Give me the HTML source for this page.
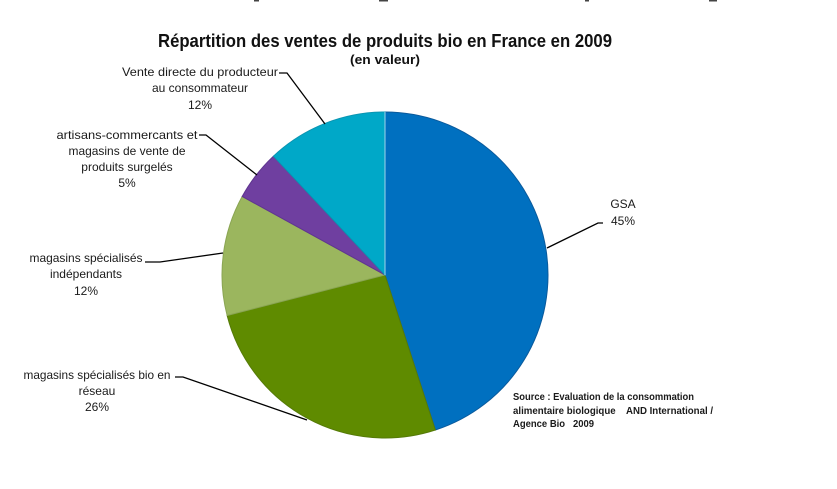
<!DOCTYPE html>
<html>
<head>
<meta charset="utf-8">
<style>
html,body{margin:0;padding:0;background:#fff;}
svg{display:block;}
text{font-family:"Liberation Sans",sans-serif;fill:#1a1a1a;}
</style>
</head>
<body>
<svg width="837" height="489" viewBox="0 0 837 489" xmlns="http://www.w3.org/2000/svg">
<rect width="837" height="489" fill="#fff"/>
<!-- cut-off marks at top -->
<rect x="254" y="0" width="5" height="1.5" fill="#444"/>
<rect x="379" y="0" width="9" height="1.5" fill="#444"/>
<rect x="585" y="0" width="4" height="1.5" fill="#444"/>
<rect x="709" y="0" width="8" height="1.5" fill="#444"/>

<!-- Title -->
<text x="385" y="47" text-anchor="middle" font-size="18" font-weight="bold" textLength="454" lengthAdjust="spacingAndGlyphs" style="fill:#111">Répartition des ventes de produits bio en France en 2009</text>
<text x="385" y="64" text-anchor="middle" font-size="13" font-weight="bold" textLength="70" lengthAdjust="spacingAndGlyphs" style="fill:#111">(en valeur)</text>

<!-- Pie -->
<g stroke-width="1">
<path d="M385,275 L385,112 A163,163 0 0,1 435.37,430.02 Z" fill="#0070C0" stroke="#0a5a9c"/>
<path d="M385,275 L435.37,430.02 A163,163 0 0,1 227.12,315.54 Z" fill="#5F8B00" stroke="#557a08"/>
<path d="M385,275 L227.12,315.54 A163,163 0 0,1 242.16,196.48 Z" fill="#9BB65E" stroke="#8aa553"/>
<path d="M385,275 L242.16,196.48 A163,163 0 0,1 273.42,156.18 Z" fill="#6F3FA0" stroke="#5f3590"/>
<path d="M385,275 L273.42,156.18 A163,163 0 0,1 385,112 Z" fill="#00A8C8" stroke="#0a95b2"/>
</g>
<line x1="385" y1="112" x2="385" y2="275" stroke="#9fd3ea" stroke-width="1"/>

<!-- Leader lines -->
<g stroke="#000" stroke-width="1.3" fill="none">
<polyline points="279,73 287,73 325,124"/>
<polyline points="199,135 206,135 257,175"/>
<polyline points="145,262 160,262 223,253"/>
<polyline points="175,377 183,377 307,420"/>
<polyline points="603,223 598,223 547,248"/>
</g>

<!-- Labels -->
<g font-size="12">
<text x="200" y="76" text-anchor="middle" textLength="156" lengthAdjust="spacingAndGlyphs">Vente directe du producteur</text>
<text x="200" y="92" text-anchor="middle">au consommateur</text>
<text x="200" y="109" text-anchor="middle">12%</text>

<text x="127" y="139" text-anchor="middle" textLength="141" lengthAdjust="spacingAndGlyphs">artisans-commercants et</text>
<text x="127" y="155" text-anchor="middle" textLength="117" lengthAdjust="spacingAndGlyphs">magasins de vente de</text>
<text x="127" y="171" text-anchor="middle">produits surgelés</text>
<text x="127" y="187" text-anchor="middle">5%</text>

<text x="86" y="262" text-anchor="middle" textLength="113" lengthAdjust="spacingAndGlyphs">magasins spécialisés</text>
<text x="86" y="278" text-anchor="middle">indépendants</text>
<text x="86" y="295" text-anchor="middle">12%</text>

<text x="97" y="379" text-anchor="middle" textLength="147" lengthAdjust="spacingAndGlyphs">magasins spécialisés bio en</text>
<text x="97" y="395" text-anchor="middle">réseau</text>
<text x="97" y="411" text-anchor="middle">26%</text>

<text x="623" y="208" text-anchor="middle">GSA</text>
<text x="623" y="225" text-anchor="middle">45%</text>
</g>

<!-- Source -->
<g font-size="10" font-weight="bold">
<text x="513" y="400" textLength="181" lengthAdjust="spacingAndGlyphs">Source : Evaluation de la consommation</text>
<text x="513" y="414" textLength="200" lengthAdjust="spacingAndGlyphs">alimentaire biologique&#160;&#160;&#160; AND International /</text>
<text x="513" y="427" textLength="81" lengthAdjust="spacingAndGlyphs">Agence Bio&#160;&#160; 2009</text>
</g>
</svg>
</body>
</html>
